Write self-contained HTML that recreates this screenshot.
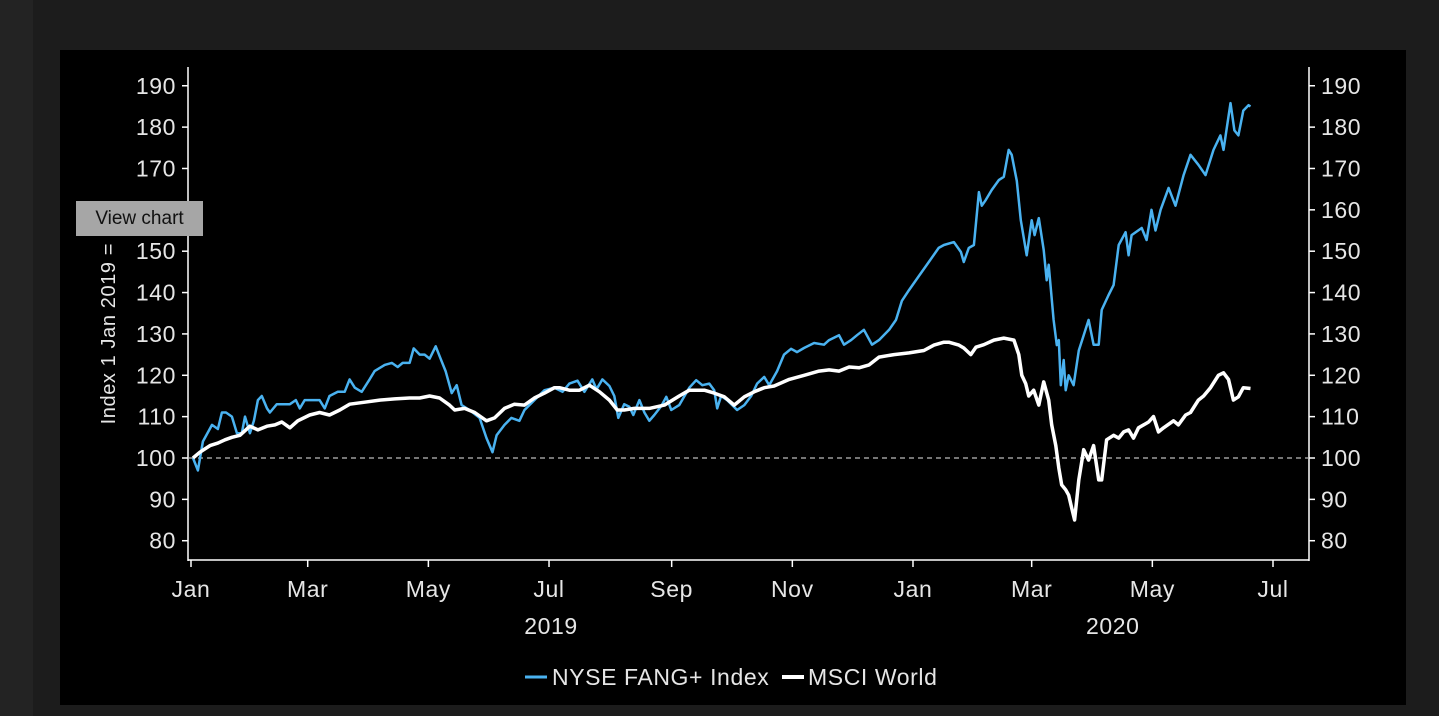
<!DOCTYPE html>
<html><head><meta charset="utf-8"><style>
html,body{margin:0;padding:0;width:1439px;height:716px;overflow:hidden;background:#1c1c1c;font-family:"Liberation Sans",sans-serif}
#strip{position:absolute;left:0;top:0;width:33px;height:716px;background:#232323}
#panel{position:absolute;left:60px;top:50px;width:1346px;height:655px;background:#000}
#tip{position:absolute;left:76px;top:201px;width:127px;height:35px;background:#a6a6a6;color:#111;font-size:19px;line-height:35px;text-align:center}
svg{position:absolute;left:0;top:0}
svg text{letter-spacing:0.6px}
</style></head><body>
<div id="strip"></div>
<div id="panel"></div>
<svg id="chart" width="1439" height="716"></svg>
<div id="tip">View chart</div>
<script>
const yTicks=[80,90,100,110,120,130,140,150,160,170,180,190];
const monthLabels=["Jan","Mar","May","Jul","Sep","Nov","Jan","Mar","May","Jul"];
const monthDays=[0,59,120,181,243,304,365,425,486,547];
const yearLabels=["2019","2020"];
const yearDays=[182,466];
const fangDays=[1,3.5,6,10.6,13.6,15.6,17.7,20.7,23.2,25.7,27.3,29.8,31.8,33.8,35.8,38.4,39.9,43.4,50,53,55,57.5,65,67.6,70,74.2,77.7,80.2,82.8,86.3,90.3,92.8,97.9,101.5,104.5,107,110.5,112.6,115.6,118.1,120.6,123.7,126.2,128.7,131.8,134.3,136.8,140.8,145.9,149.4,152.4,154.5,158.5,162,166,168.6,173.6,178.7,183.7,187.8,191.3,195.4,198.9,202.9,205,208,211.5,214,216,219,221.6,223.6,226.7,229.2,231.7,234.2,237.8,240.3,242.8,246.8,251.9,255.4,258.5,262,264.5,266,268,271,273.6,276.1,279.7,283.2,286.2,289.8,292.3,296.3,299.8,303.4,306.4,309.9,315,320,322.6,327.6,330.1,333.7,336.7,340.2,344.3,347.8,352.9,356.4,359.4,363,368,373,378,380.6,385.7,389.2,390.7,393.2,395.8,398.3,399.8,401.8,404.8,408.4,410.9,413.4,414.9,417.5,419.5,422.5,425,426.5,428.6,431.1,432.6,433.6,436.1,437.7,438.7,439.7,441.2,442.2,443.7,446.2,448.8,451.3,453.8,456.3,458.9,460.4,463.9,466.4,469,472.5,474,475.5,480.6,483.1,485.6,487.6,490.2,494.2,497.7,501.8,505.3,509.3,512.9,516.9,520.4,522,525.5,527.5,529.5,532,534.6,535.6];
const fangValues=[100,97,104,108,107,111,111,110,106,106,110,106,109,114,115,112,111,113,113,114,112,114,114,112,115,116,116,119,117,116,119,121,122.5,123,122,123,123,126.5,125,125,124,127,124,121,115.7,117.6,112.8,111.6,109.7,104.8,101.4,105.5,108,109.7,109,111.6,114,116.4,117,116,118,118.7,116,119,116.6,119,117.4,115,109.7,113,112.4,110.4,114,111,109,110.4,112.6,114.8,111.6,112.8,117,118.8,117.6,118,116.4,112,115,114,112.8,111.6,112.8,115,118,119.6,117.6,121,125,126.4,125.6,126.6,127.8,127.4,128.5,129.7,127.4,128.5,129.7,131,127.4,128.5,131,133.4,138,140.6,144,147.4,150.8,151.5,152.2,149.8,147.4,150.8,151.5,164.3,161,162.4,164.8,167.2,168,174.5,173.3,167,157.5,149,157.5,153.9,158,150.3,143,146.7,133.4,127.3,128.5,117.6,123.7,116.4,120,117.6,126,129.7,133.4,127.4,127.4,135.8,139.4,141.8,151.5,154.6,149,153.9,155.6,152.7,160,155,160,165.3,161,168.4,173.3,170.9,168.4,174.5,178,174.5,185.8,179.2,178,184,185.3,185];
const msciDays=[1,4.5,9.6,13.6,17.2,20.7,24.7,29.8,33.8,38.4,42.4,45.9,50,54,60,65,70,75.2,80.2,87.8,95.4,103,110.5,115.6,120.6,125.7,130.7,133.3,138.3,143.4,149.4,153.5,158.5,163.5,168.6,173.6,178.7,183.7,186.3,191.3,196.4,201.4,206.5,211.5,215.5,219,224.1,231.7,239.3,246.8,251.9,259.5,264.5,269.6,274.6,279.7,284.7,289.8,294.8,302.4,310,317.5,322.6,327.6,332.7,337.7,342.8,347.8,355.4,363,370.5,375.6,380.6,383.1,388.2,390.7,394.2,396.8,400.8,405.9,410.9,416,418.5,420,422,423.5,426,428.6,431.1,433.6,435.1,437.2,438.7,440.2,442.2,443.7,445.2,446.7,448.8,451.3,453.8,456.3,458.9,460.4,462.9,466.4,469,471.5,474,476.5,479,484.1,486.6,489.1,491.7,496.7,499.2,502.8,505.3,509.3,511.9,515.4,519.4,522,524.5,527,529.5,532,535.6];
const msciValues=[100,101.4,103,103.6,104.4,105,105.5,107.7,106.8,107.7,108,108.7,107.3,109,110.4,111,110.4,111.6,113,113.5,114,114.3,114.5,114.5,115,114.5,112.8,111.6,112,111,109,109.7,112,113,112.8,114.5,115.7,117,117,116.4,116.4,117.6,116,114,111.6,111.6,112,112,112.8,115,116.4,116.4,115.7,114.8,112.8,114.8,116,117,117.4,119,120,121,121.3,121,122,121.8,122.5,124.4,125,125.4,126,127.3,128,128,127.3,126.6,125,126.8,127.4,128.5,129,128.5,125,120,118,115,116.4,112.8,118.4,114,108,103,97.6,93.5,92.3,91,88,85,94.7,102,99.5,103,94.7,94.7,104.4,105.5,104.8,106.3,106.8,104.8,107.3,108.7,110,106.3,107.3,109,108,110.4,111,114,115,117,120,120.6,119,114,114.8,117,116.8];

const NS="http://www.w3.org/2000/svg";
const svg=document.getElementById('chart');
const X0=191,X1=1273,D1=547;
const xs=d=>X0+(d/D1)*(X1-X0);
const ys=v=>458-(v-100)*4.136;
function mk(tag,attrs,parent){const e=document.createElementNS(NS,tag);for(const k in attrs)e.setAttribute(k,attrs[k]);(parent||svg).appendChild(e);return e;}

let e;
e=mk('line',{x1:188,y1:67,x2:188,y2:561,stroke:'#fff','stroke-width':1.5});


e=mk('line',{x1:1309,y1:67,x2:1309,y2:561,stroke:'#fff','stroke-width':1.5});


e=mk('line',{x1:188,y1:560,x2:1309,y2:560,stroke:'#fff','stroke-width':1.5});


e=mk('line',{x1:189,y1:ys(100),x2:1309,y2:ys(100),stroke:'#bbb','stroke-width':1.2,'stroke-dasharray':'5,4'});



yTicks.forEach(v=>{
  const y=ys(v);
  e=mk('line',{x1:182,y1:y,x2:188,y2:y,stroke:'#fff','stroke-width':1.5});
  
  
  e=mk('line',{x1:1309,y1:y,x2:1315,y2:y,stroke:'#fff','stroke-width':1.5});
  
  
  e=mk('text',{x:176,y:y+8,'text-anchor':'end',fill:'#e6e6e6','font-size':23});
  e.textContent=v;
  
  
  e=mk('text',{x:1321,y:y+8,'text-anchor':'start',fill:'#e6e6e6','font-size':23});
  e.textContent=v;
  
  
});
monthDays.forEach((d,i)=>{
  const x=xs(d);
  e=mk('line',{x1:x,y1:560,x2:x,y2:567,stroke:'#fff','stroke-width':1.5});
  
  
  e=mk('text',{x:x,y:597,'text-anchor':'middle',fill:'#e6e6e6','font-size':23});
  e.textContent=monthLabels[i];
  
  
});
yearLabels.forEach((t,i)=>{
  e=mk('text',{x:xs(yearDays[i]),y:634,'text-anchor':'middle',fill:'#e6e6e6','font-size':23});
  e.textContent=t;
  
  
});
e=mk('text',{x:0,y:0,'text-anchor':'middle',fill:'#e6e6e6','font-size':20,transform:'translate(115,313) rotate(-90)'});
e.textContent='Index 1 Jan 2019 = 100';



function path(days,vals){return days.map((d,i)=>(i?'L':'M')+xs(d).toFixed(1)+','+ys(vals[i]).toFixed(1)).join('');}
e=mk('path',{d:path(fangDays,fangValues),fill:'none',stroke:'#4ab2f0','stroke-width':2.5,'stroke-linejoin':'round'});


e=mk('path',{d:path(msciDays,msciValues),fill:'none',stroke:'#fff','stroke-width':3.5,'stroke-linejoin':'round'});



e=mk('line',{x1:525,y1:677,x2:547,y2:677,stroke:'#4ab2f0','stroke-width':3});


e=mk('text',{x:552,y:685,fill:'#e6e6e6','font-size':23});
e.textContent='NYSE FANG+ Index';


e=mk('line',{x1:782,y1:677,x2:804,y2:677,stroke:'#fff','stroke-width':4});


e=mk('text',{x:808,y:685,fill:'#e6e6e6','font-size':23});
e.textContent='MSCI World';


</script>
</body></html>
